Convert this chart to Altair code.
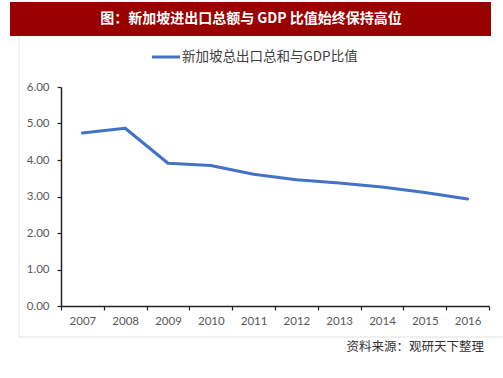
import altair as alt
import pandas as pd

years = ["2007", "2008", "2009", "2010", "2011", "2012", "2013", "2014", "2015", "2016"]
ratio = [4.74, 4.87, 3.91, 3.85, 3.61, 3.46, 3.37, 3.26, 3.11, 2.93]

title_text = "图：新加坡进出口总额与 GDP 比值始终保持高位"
legend_text = "新加坡总出口总和与GDP比值"
source_text = "资料来源：观研天下整理"
y_ticks = [0, 1, 2, 3, 4, 5, 6]

df = pd.DataFrame({"year": years, "ratio": ratio})
one = pd.DataFrame({"k": [0]})

CJK = "Noto Sans CJK SC"
NUM = "Lato"

line = alt.Chart(df).mark_line(color="#4472C4", strokeWidth=3, strokeCap="round", strokeJoin="round").encode(
    x=alt.X("year:O", bandPosition=0.5,
            scale=alt.Scale(type="band", paddingInner=0, paddingOuter=0),
            axis=alt.Axis(title=None, labelAngle=0, tickBand="extent", tickSize=4,
                          labelPadding=5, labelFont=NUM, labelFontSize=11.5, labelColor="#595959",
                          domainColor="#222222", domainWidth=1.5, tickColor="#222222", tickWidth=1.2,
                          grid=False)),
    y=alt.Y("ratio:Q", scale=alt.Scale(domain=[0, 6], nice=False),
            axis=alt.Axis(title=None, values=y_ticks, format=".2f", tickSize=4, labelPadding=8,
                          labelFont=NUM, labelFontSize=11.5, labelColor="#595959",
                          domainColor="#222222", domainWidth=1.5, tickColor="#222222", tickWidth=1.2,
                          grid=False)),
)

bar = alt.Chart(one).mark_rect(color="#990000").encode(
    x=alt.value(-51), x2=alt.value(430), y=alt.value(-85), y2=alt.value(-51))
title = alt.Chart(one).mark_text(color="white", font=CJK, fontSize=14, fontWeight="bold",
                                 align="center", baseline="middle").encode(
    x=alt.value(190), y=alt.value(-68), text=alt.value(title_text))
frame_left = alt.Chart(one).mark_rule(color="#e6e6e6", strokeWidth=1).encode(
    x=alt.value(-42), y=alt.value(-51), y2=alt.value(250))
frame_bottom = alt.Chart(one).mark_rule(color="#e0e0e0", strokeWidth=1).encode(
    x=alt.value(-42), x2=alt.value(442), y=alt.value(250))
leg_line = alt.Chart(one).mark_rule(color="#4472C4", strokeWidth=3).encode(
    x=alt.value(91), x2=alt.value(119), y=alt.value(-30))
leg_text = alt.Chart(one).mark_text(color="#404040", font=CJK, fontSize=13.5,
                                    align="left", baseline="middle").encode(
    x=alt.value(121), y=alt.value(-30), text=alt.value(legend_text))
source = alt.Chart(one).mark_text(color="#333333", font=CJK, fontSize=12.5,
                                  align="right", baseline="middle").encode(
    x=alt.value(423), y=alt.value(260), text=alt.value(source_text))

chart = alt.layer(frame_left, frame_bottom, bar, title, leg_line, leg_text, source, line).properties(
    width=428, height=219,
    autosize=alt.AutoSizeParams(type="none"),
    padding={"left": 61, "top": 87, "right": 14, "bottom": 72},
    background="white",
).configure_view(stroke=None)

chart.save("out.html", embed_options={"renderer": "svg", "actions": False})
